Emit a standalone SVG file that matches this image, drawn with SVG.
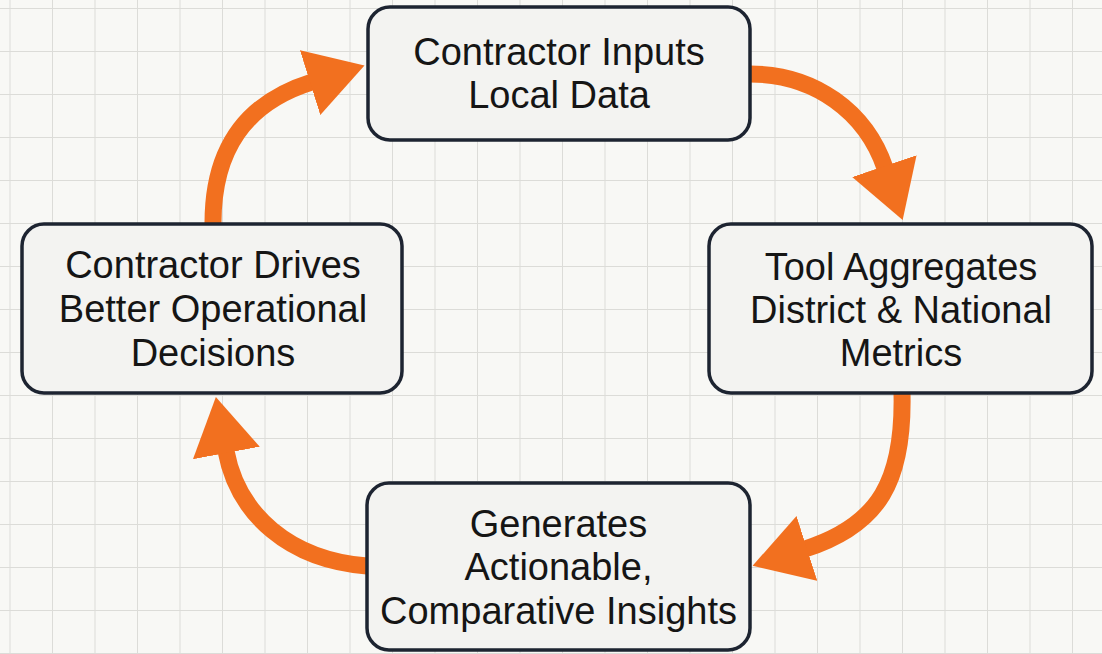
<svg xmlns="http://www.w3.org/2000/svg" width="1102" height="654" viewBox="0 0 1102 654">
  <defs>
    <pattern id="grid" patternUnits="userSpaceOnUse" x="9.5" y="8" width="42.5" height="43">
      <path d="M0,0 V43 M0,0 H42.5" fill="none" stroke="#dcdcd8" stroke-width="2"/>
    </pattern>
    <marker id="ah" markerUnits="userSpaceOnUse" markerWidth="58" markerHeight="68" viewBox="0 0 58 68" refX="2" refY="34" orient="auto">
      <path d="M0,0 L57,34 L0,68 Z" fill="#f2701f"/>
    </marker>
    <style>
      .box { fill: #f3f3f1; stroke: #1d2431; stroke-width: 3.5; }
      .lbl { font-family: "Liberation Sans", Arial, sans-serif; font-size: 38px; fill: #151515; text-anchor: middle; }
      .arrow { fill: none; stroke: #f2701f; stroke-width: 17; marker-end: url(#ah); }
    </style>
  </defs>
  <rect width="1102" height="654" fill="#f8f8f5"/>
  <rect width="1102" height="654" fill="url(#grid)"/>

  <g id="connectors">
    <path class="arrow" d="M 750 74 C 815 74, 866 112, 885 168"/>
    <path class="arrow" d="M 902 393 C 904 480, 880 525, 805 549"/>
    <path class="arrow" d="M 367 566 C 290 560, 238 515, 226 451"/>
    <path class="arrow" d="M 213 223 C 213 150, 245 103, 312 82"/>
  </g>

  <g id="node-inputs">
    <rect class="box" x="368" y="7" width="382" height="133" rx="22"/>
    <text class="lbl" x="559" y="65">Contractor Inputs</text>
    <text class="lbl" x="559" y="108">Local Data</text>
  </g>

  <g id="node-aggregates">
    <rect class="box" x="709" y="224" width="383" height="169" rx="22"/>
    <text class="lbl" x="901" y="280">Tool Aggregates</text>
    <text class="lbl" x="901" y="323">District &amp; National</text>
    <text class="lbl" x="901" y="366">Metrics</text>
  </g>

  <g id="node-insights">
    <rect class="box" x="367" y="483" width="383" height="167" rx="22"/>
    <text class="lbl" x="558.5" y="537">Generates</text>
    <text class="lbl" x="558.5" y="580">Actionable,</text>
    <text class="lbl" x="558.5" y="624">Comparative Insights</text>
  </g>

  <g id="node-decisions">
    <rect class="box" x="22" y="224" width="380" height="169" rx="22"/>
    <text class="lbl" x="213" y="278">Contractor Drives</text>
    <text class="lbl" x="213" y="322">Better Operational</text>
    <text class="lbl" x="213" y="366">Decisions</text>
  </g>
</svg>
